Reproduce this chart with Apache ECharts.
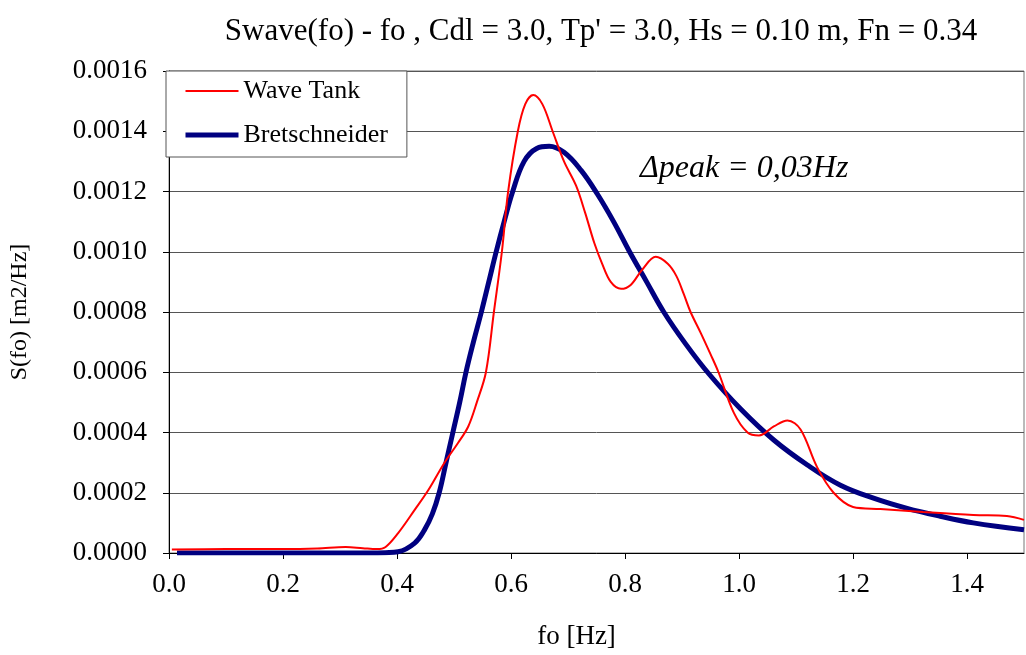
<!DOCTYPE html>
<html>
<head>
<meta charset="utf-8">
<script src="https://cdn.jsdelivr.net/npm/echarts@6/dist/echarts.min.js"></script>
<style>
html,body{margin:0;padding:0;background:#fff;}
#chart{width:1026px;height:655px;}
</style>
</head>
<body>
<div id="chart"></div>
<script>
const titleText = "Swave(fo) - fo , Cdl = 3.0, Tp' = 3.0, Hs = 0.10 m, Fn = 0.34";
const xTicks = [0, 0.2, 0.4, 0.6, 0.8, 1.0, 1.2, 1.4];
const yTicks = [0, 0.0002, 0.0004, 0.0006, 0.0008, 0.0010, 0.0012, 0.0014, 0.0016];

const waveTankX = [0.005, 0.1, 0.2, 0.26, 0.31, 0.34, 0.365, 0.38, 0.402, 0.431, 0.455, 0.483, 0.507, 0.525, 0.54, 0.556, 0.57, 0.584, 0.595, 0.612, 0.625, 0.639, 0.655, 0.673, 0.693, 0.714, 0.73, 0.746, 0.76, 0.775, 0.793, 0.81, 0.83, 0.854, 0.875, 0.89, 0.903, 0.915, 0.933, 0.95, 0.964, 0.991, 1.015, 1.035, 1.061, 1.085, 1.108, 1.137, 1.166, 1.2, 1.248, 1.323, 1.411, 1.47, 1.5];
const waveTankY = [0.000012, 0.000013, 0.000013, 0.000015, 0.00002, 0.000016, 0.000013, 0.00002, 0.000066, 0.000143, 0.000209, 0.000299, 0.000365, 0.00042, 0.0005, 0.0006, 0.0008, 0.001, 0.0012, 0.0014, 0.00149, 0.00152, 0.00149, 0.0014, 0.0013, 0.00122, 0.00113, 0.00103, 0.00096, 0.0009, 0.000877, 0.00089, 0.00094, 0.000983, 0.00096, 0.00092, 0.00086, 0.0008, 0.00073, 0.00066, 0.0006, 0.000465, 0.0004, 0.00039, 0.00042, 0.00044, 0.00041, 0.000285, 0.0002, 0.000153, 0.000146, 0.000136, 0.000126, 0.000123, 0.00011];

const bretX = [0.014, 0.2, 0.35, 0.38, 0.402, 0.431, 0.448, 0.462, 0.474, 0.486, 0.498, 0.51, 0.521, 0.534, 0.548, 0.561, 0.574, 0.588, 0.603, 0.623, 0.645, 0.667, 0.693, 0.723, 0.752, 0.78, 0.808, 0.838, 0.868, 0.906, 0.947, 1.003, 1.061, 1.12, 1.178, 1.236, 1.295, 1.353, 1.411, 1.5];
const bretY = [0, 0, 0, 0.000001, 0.000004, 0.000033, 0.000076, 0.00013, 0.0002, 0.0003, 0.0004, 0.0005, 0.0006, 0.0007, 0.0008, 0.0009, 0.001, 0.0011, 0.0012, 0.0013, 0.001343, 0.00135, 0.00133, 0.00127, 0.00119, 0.0011, 0.001, 0.0009, 0.0008, 0.000695, 0.000595, 0.000478, 0.000375, 0.000292, 0.000225, 0.000182, 0.000148, 0.000122, 0.0001, 0.000077];

const annotation = "\u0394peak = 0,03Hz";

const zip = (xs, ys) => xs.map((x, i) => [x, ys[i]]);
const FONT = "'Liberation Serif', 'Times New Roman', serif";

const chart = echarts.init(document.getElementById('chart'), null, {renderer: 'canvas'});
chart.setOption({
  backgroundColor: '#fff',
  animation: false,
  title: {
    text: titleText,
    left: 596, top: 11, textAlign: 'center',
    textStyle: {fontFamily: FONT, fontSize: 31, fontWeight: 'normal', color: '#000'}
  },
  grid: {left: 167, right: 2, top: 71, bottom: 102, show: true, borderColor: '#777', borderWidth: 1, backgroundColor: 'transparent'},
  legend: {
    orient: 'vertical', left: 166, top: 71,
    padding: [7, 19, 9, 17],
    itemGap: 18, itemWidth: 53, itemHeight: 20,
    backgroundColor: '#fff', borderColor: '#555', borderWidth: 1, borderRadius: 0,
    itemStyle: {color: 'transparent', borderWidth: 0, opacity: 0},
    textStyle: {fontFamily: FONT, fontSize: 26, color: '#000'},
    data: [
      {name: 'Wave Tank', lineStyle: {color: '#ff0000', width: 2}},
      {name: 'Bretschneider', lineStyle: {color: '#000080', width: 5}}
    ]
  },
  xAxis: {
    type: 'value', min: 0, max: 1.5,
    name: 'fo [Hz]', nameLocation: 'middle', nameGap: 70,
    nameTextStyle: {fontFamily: FONT, fontSize: 27, color: '#000', padding: [0, 40, 0, 0]},
    axisLine: {show: true, onZero: false, lineStyle: {color: '#000', width: 1}},
    axisTick: {show: true, inside: false, length: 6, customValues: xTicks, lineStyle: {color: '#000'}},
    axisLabel: {customValues: xTicks, margin: 18, fontFamily: FONT, fontSize: 27, color: '#000', formatter: v => v.toFixed(1)},
    splitLine: {show: false}
  },
  yAxis: {
    type: 'value', min: 0, max: 0.0016, interval: 0.0002,
    name: 'S(fo) [m2/Hz]', nameLocation: 'middle', nameGap: 137,
    nameTextStyle: {fontFamily: FONT, fontSize: 24, color: '#000'},
    axisLine: {show: true, lineStyle: {color: '#000', width: 1}},
    axisTick: {show: true, inside: false, length: 6, lineStyle: {color: '#000'}},
    axisLabel: {margin: 22, fontFamily: FONT, fontSize: 27, color: '#000', formatter: v => v.toFixed(4)},
    splitLine: {show: true, lineStyle: {color: '#555', width: 1}}
  },
  graphic: [{
    type: 'text', left: 640, top: 153, z: 10,
    style: {text: annotation, fontFamily: FONT, fontSize: 32, fontStyle: 'italic', fill: '#000'}
  }],
  series: [
    {
      name: 'Wave Tank', type: 'line', data: zip(waveTankX, waveTankY),
      smooth: 0.35, showSymbol: false, symbol: 'none',
      lineStyle: {color: '#ff0000', width: 2}, itemStyle: {color: '#ff0000'}, z: 3
    },
    {
      name: 'Bretschneider', type: 'line', data: zip(bretX, bretY),
      smooth: 0.4, showSymbol: false, symbol: 'none',
      lineStyle: {color: '#000080', width: 5}, itemStyle: {color: '#000080'}, z: 2
    }
  ]
});
</script>
</body>
</html>
